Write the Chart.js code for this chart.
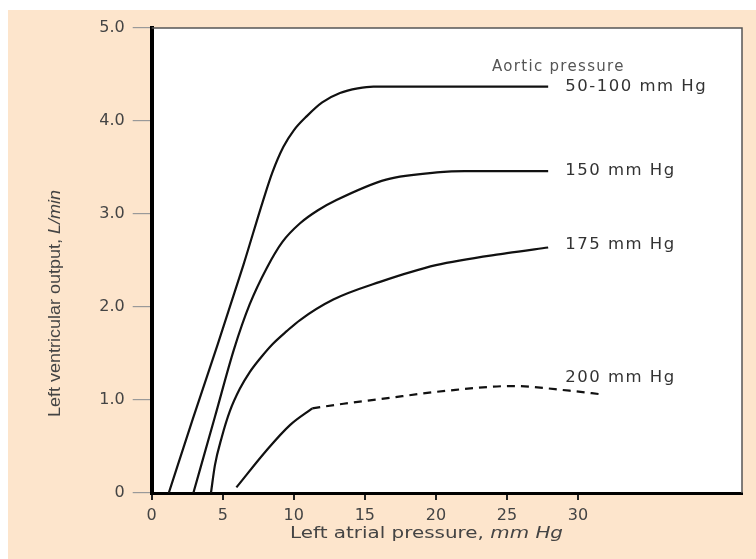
<!DOCTYPE html>
<html>
<head>
<meta charset="utf-8">
<script src="https://cdn.jsdelivr.net/npm/chart.js@4.4.1/dist/chart.umd.min.js"></script>
<style>
  body{margin:0;background:#fff;}
  #wrap{position:absolute;left:8px;top:10px;width:748px;height:549px;background:#fde5cc;}
</style>
</head>
<body>
<div id="wrap"><canvas id="lvChart" width="748" height="549"></canvas></div>
<script>
// left atrial pressure (mm Hg) -> left ventricular output (L/min)
const p100X=[1.2,2.9,4.65,6.45,7.85,8.5,9.26,10.0,10.9,12.0,13.25,14.5,15.6,20,27.9];
const p100Y=[0,0.8,1.6,2.45,3.15,3.45,3.72,3.9,4.05,4.2,4.30,4.35,4.37,4.37,4.37];

const p150X=[2.93,4.45,5.8,6.9,8.1,9.2,10.44,11.7,13.0,16.5,20.3,22,27.9];
const p150Y=[0,0.82,1.55,2.03,2.42,2.70,2.90,3.04,3.15,3.37,3.45,3.46,3.46];

const p175X=[4.17,4.45,4.93,5.5,6.2,6.9,7.7,8.5,9.5,10.44,12.78,16.07,20,25,27.9];
const p175Y=[0,0.3,0.6,0.88,1.12,1.3,1.46,1.6,1.74,1.86,2.08,2.27,2.45,2.58,2.64];

const p200X=[5.96,8.09,9.73,11.3];
const p200Y=[0.06,0.46,0.73,0.91];
const p200DashX=[11.3,13.5,16.1,20.8,25.4,29.4,31.7];
const p200DashY=[0.91,0.96,1.01,1.10,1.15,1.10,1.06];

const curveNames=["50-100 mm Hg","150 mm Hg","175 mm Hg","200 mm Hg"];
const xTicks=[0,5,10,15,20,25,30];
const yTicks=[0,1,2,3,4,5];

const pts=(xs,ys)=>xs.map((x,i)=>({x:x,y:ys[i]}));

const lineStyle={borderColor:"#111",borderWidth:2.2,pointRadius:0,fill:false,cubicInterpolationMode:"monotone"};

// draws text in two styles (normal + italic) centred on 0,0, squeezed/stretched to a width
function twoPart(ctx,a,b,font,width){
  ctx.font=font;
  const w1=ctx.measureText(a).width;
  ctx.font="italic "+font;
  const w2=ctx.measureText(b).width;
  ctx.scale(width/(w1+w2),1);
  const s=-(w1+w2)/2;
  ctx.font=font;
  ctx.fillText(a,s,0);
  ctx.font="italic "+font;
  ctx.fillText(b,s+w1,0);
}

const textPlugin={
  id:"textPlugin",
  beforeDraw(chart){
    const {ctx,chartArea:a}=chart;
    ctx.save();
    ctx.fillStyle="#fff";
    ctx.fillRect(a.left,a.top,a.right-a.left,a.bottom-a.top);
    ctx.restore();
  },
  afterDraw(chart){
    const {ctx,chartArea:a,scales}=chart;
    const xs=scales.x, ys=scales.y;
    ctx.save();
    // thin top and right frame
    ctx.strokeStyle="#555";
    ctx.lineWidth=1.5;
    ctx.beginPath();
    ctx.moveTo(a.left,a.top);
    ctx.lineTo(a.right,a.top);
    ctx.lineTo(a.right,a.bottom);
    ctx.stroke();

    ctx.textBaseline="middle";
    ctx.textAlign="left";
    ctx.letterSpacing="1.3px";
    ctx.font="15px 'DejaVu Sans'";
    ctx.fillStyle="#555";
    ctx.fillText("Aortic pressure",xs.getPixelForValue(23.95),ys.getPixelForValue(4.58));
    ctx.letterSpacing="1.5px";
    ctx.font="16.5px 'DejaVu Sans'";
    ctx.fillStyle="#333";
    const lx=xs.getPixelForValue(29.1);
    const ly=[4.37,3.47,2.67,1.24];
    curveNames.forEach((t,i)=>ctx.fillText(t,lx,ys.getPixelForValue(ly[i])));
    ctx.letterSpacing="0px";
    ctx.restore();

    // x title
    ctx.save();
    ctx.fillStyle="#444";
    ctx.textBaseline="alphabetic";
    ctx.translate(418.5,528);
    twoPart(ctx,"Left atrial pressure, ","mm Hg","16.5px 'DejaVu Sans'",273);
    ctx.restore();

    // y title
    ctx.save();
    ctx.fillStyle="#444";
    ctx.textBaseline="middle";
    ctx.translate(47,293.5);
    ctx.rotate(-Math.PI/2);
    twoPart(ctx,"Left ventricular output, ","L/min","17px 'Liberation Sans Narrow','Liberation Sans',sans-serif",227);
    ctx.restore();
  }
};

new Chart(document.getElementById("lvChart"),{
  type:"line",
  data:{
    datasets:[
      {...lineStyle,label:curveNames[0],data:pts(p100X,p100Y)},
      {...lineStyle,label:curveNames[1],data:pts(p150X,p150Y)},
      {...lineStyle,label:curveNames[2],data:pts(p175X,p175Y)},
      {...lineStyle,label:curveNames[3],data:pts(p200X,p200Y)},
      {...lineStyle,label:curveNames[3]+" (dashed)",data:pts(p200DashX,p200DashY),borderDash:[8,6]}
    ]
  },
  options:{
    responsive:false,
    animation:false,
    layout:{padding:{top:18,right:14,left:0,bottom:0}},
    plugins:{legend:{display:false},tooltip:{enabled:false}},
    scales:{
      x:{
        type:"linear",min:0,max:41.54,
        afterBuildTicks:s=>{s.ticks=xTicks.map(v=>({value:v}));},
        afterFit:s=>{s.height=66;},
        grid:{drawOnChartArea:false,tickLength:7,tickColor:"#222",lineWidth:2},
        border:{width:3,color:"#000"},
        ticks:{autoSkip:false,maxRotation:0,padding:6,color:"#444",font:{family:"DejaVu Sans",size:16}}
      },
      y:{
        type:"linear",min:0,max:5,
        afterBuildTicks:s=>{s.ticks=yTicks.map(v=>({value:v}));},
        afterFit:s=>{s.width=143.7;},
        grid:{drawOnChartArea:false,tickLength:19,tickColor:"#999",lineWidth:1.2},
        border:{width:4,color:"#000"},
        ticks:{padding:8,color:"#444",font:{family:"DejaVu Sans",size:16},
          callback:v=>v===0?"0":v.toFixed(1)}
      }
    }
  },
  plugins:[textPlugin]
});
</script>
</body>
</html>
